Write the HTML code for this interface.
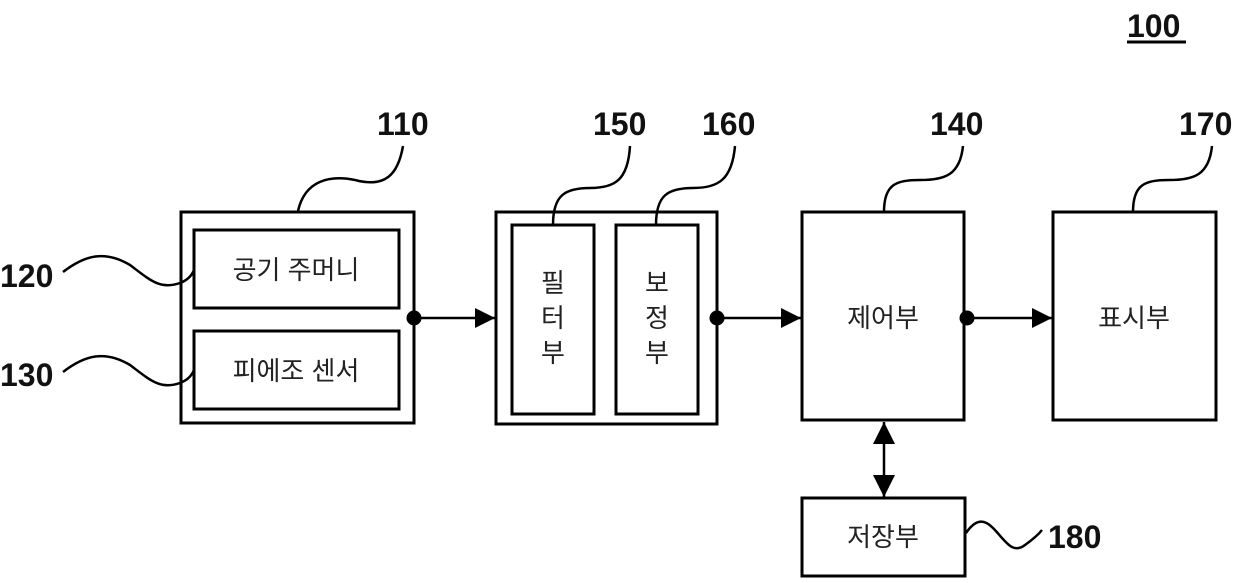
<!DOCTYPE html>
<html><head><meta charset="utf-8"><style>
html,body{margin:0;padding:0;background:#fff;}
svg text{font-family:"Liberation Sans","Noto Sans CJK KR","NanumGothic",sans-serif;}
.l{font-weight:bold;font-size:32px;fill:#111;}
.t{font-size:26px;fill:#222;}
</style></head><body>
<svg width="1240" height="578" viewBox="0 0 1240 578" xmlns="http://www.w3.org/2000/svg">
<defs>
<marker id="b" viewBox="0 0 10 10" refX="10" refY="5" markerWidth="21" markerHeight="20" markerUnits="userSpaceOnUse" orient="auto"><path d="M0,0L10,5L0,10z" fill="#000"/></marker>
<marker id="c" viewBox="0 0 10 10" refX="10" refY="5" markerWidth="27" markerHeight="22" markerUnits="userSpaceOnUse" orient="auto"><path d="M0,0L10,5L0,10z" fill="#000"/></marker></defs>
<g fill="none" stroke="#000" stroke-width="3">
<rect x="181" y="212" width="233" height="211"/>
<rect x="194" y="230" width="205" height="78"/>
<rect x="194" y="331" width="205" height="78"/>
<rect x="496" y="212" width="221" height="212"/>
<rect x="512" y="225" width="82" height="189"/>
<rect x="616" y="225" width="82" height="189"/>
<rect x="802" y="212" width="162" height="208"/>
<rect x="1053" y="212" width="163" height="208"/>
<rect x="802" y="498" width="163" height="78"/>
</g>
<g fill="none" stroke="#000" stroke-width="2.5">
<path d="M298,211 C305,180 330,175 355,180 C385,188 398,175 403,146"/>
<path d="M553,225 C553,195 565,188 590,188 C615,188 628,180 630,146"/>
<path d="M656,225 C656,195 668,188 693,188 C718,188 732,180 735,146"/>
<path d="M884,212 C884,185 895,180 920,180 C945,180 960,175 963,146"/>
<path d="M1133,212 C1133,185 1144,180 1169,180 C1194,180 1209,175 1212,146"/>
<path d="M63,272 C85,255 105,250 130,265 C150,280 160,290 180,283 C188,280 192,275 194,270"/>
<path d="M63,372 C85,355 105,350 130,365 C150,380 160,390 180,383 C188,380 192,375 194,370"/>
<path d="M966,533 C975,520 983,518 993,528 C1005,540 1012,555 1025,545 C1032,540 1038,535 1042,530"/>
</g>
<g stroke="#000" stroke-width="2.5">
<line x1="414" y1="318" x2="495" y2="318" marker-end="url(#b)"/>
<line x1="717" y1="318" x2="801" y2="318" marker-end="url(#b)"/>
<line x1="967" y1="318" x2="1052" y2="318" marker-end="url(#b)"/>
<line x1="884" y1="460" x2="884" y2="422" marker-end="url(#c)"/>
<line x1="884" y1="460" x2="884" y2="497" marker-end="url(#c)"/>
</g>
<circle cx="414" cy="318" r="7.5"/><circle cx="717" cy="318" r="7.5"/><circle cx="967" cy="318" r="7.5"/>
<text class="l" x="1127" y="37">100</text>
<line x1="1127" y1="42" x2="1186" y2="42" stroke="#000" stroke-width="3"/>
<text class="l" x="377" y="135">110</text>
<text class="l" x="593" y="135">150</text>
<text class="l" x="702" y="135">160</text>
<text class="l" x="930" y="135">140</text>
<text class="l" x="1179" y="135">170</text>
<text class="l" x="0" y="287">120</text>
<text class="l" x="0" y="386">130</text>
<text class="l" x="1048" y="548">180</text>
<text class="t" x="296" y="279" text-anchor="middle">공기 주머니</text>
<text class="t" x="296" y="380" text-anchor="middle">피에조 센서</text>
<text class="t" x="553" y="292" text-anchor="middle">필</text>
<text class="t" x="553" y="327" text-anchor="middle">터</text>
<text class="t" x="553" y="362" text-anchor="middle">부</text>
<text class="t" x="657" y="292" text-anchor="middle">보</text>
<text class="t" x="657" y="327" text-anchor="middle">정</text>
<text class="t" x="657" y="362" text-anchor="middle">부</text>
<text class="t" x="883" y="327" text-anchor="middle">제어부</text>
<text class="t" x="1134" y="327" text-anchor="middle">표시부</text>
<text class="t" x="883" y="546" text-anchor="middle">저장부</text>
</svg>
</body></html>
